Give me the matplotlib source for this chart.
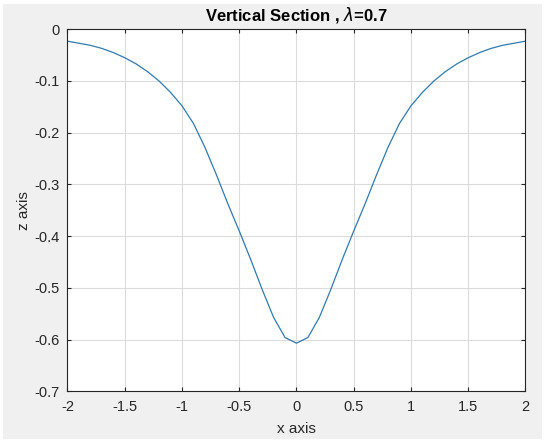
import numpy as np
import matplotlib
matplotlib.use("Agg")
import matplotlib.pyplot as plt
from matplotlib.patches import Rectangle

x_left = [-2.0, -1.9, -1.8, -1.7, -1.6, -1.5, -1.4, -1.3, -1.2, -1.1,
          -1.0, -0.9, -0.8, -0.7, -0.6, -0.5, -0.4, -0.3, -0.2, -0.1, 0.0]
z_left = [-0.023, -0.027, -0.031, -0.037, -0.045, -0.055, -0.067, -0.082,
          -0.100, -0.122, -0.148, -0.182, -0.228, -0.281, -0.337, -0.390,
          -0.445, -0.503, -0.557, -0.596, -0.607]

x_vals = x_left + [-v for v in x_left[-2::-1]]
z_vals = z_left + z_left[-2::-1]

x_ticks = [-2, -1.5, -1, -0.5, 0, 0.5, 1, 1.5, 2]
x_labels = ["-2", "-1.5", "-1", "-0.5", "0", "0.5", "1", "1.5", "2"]
y_ticks = [-0.7, -0.6, -0.5, -0.4, -0.3, -0.2, -0.1, 0]
y_labels = ["-0.7", "-0.6", "-0.5", "-0.4", "-0.3", "-0.2", "-0.1", "0"]

plt.rcParams["font.family"] = ["Liberation Sans", "DejaVu Sans"]
plt.rcParams["mathtext.fontset"] = "dejavusans"

fig = plt.figure(figsize=(5.5, 4.47), dpi=100, facecolor="white")
fig.patches.append(Rectangle((0.0055, 0.018), 0.98, 0.973, transform=fig.transFigure,
                             facecolor="#f0f0f0", edgecolor="none", zorder=-10))

ax = fig.add_axes([0.1227, 0.1246, 0.8327, 0.8099])
ax.set_facecolor("white")
ax.plot(x_vals, z_vals, color="#2f7bb0", linewidth=0.9)

ax.set_xlim(-2, 2)
ax.set_ylim(-0.7, 0)
ax.set_xticks(x_ticks)
ax.set_xticklabels(x_labels)
ax.set_yticks(y_ticks)
ax.set_yticklabels(y_labels)

ax.grid(True, color="#dcdcdc", linewidth=0.8)
ax.set_axisbelow(True)
ax.tick_params(direction="in", length=3, width=0.8, colors="#262626",
               labelsize=10.5, top=True, right=True, pad=6)
for s in ax.spines.values():
    s.set_color("#262626")
    s.set_linewidth(0.8)

ax.set_title(r"Vertical Section , $\lambda$=0.7", fontsize=12, fontweight="bold",
             color="black", pad=6)
ax.set_xlabel("x axis", fontsize=11, color="#262626", labelpad=6)
ax.set_ylabel("z axis", fontsize=11, color="#262626", labelpad=2)

fig.savefig("out.png", dpi=100, facecolor=fig.get_facecolor())
